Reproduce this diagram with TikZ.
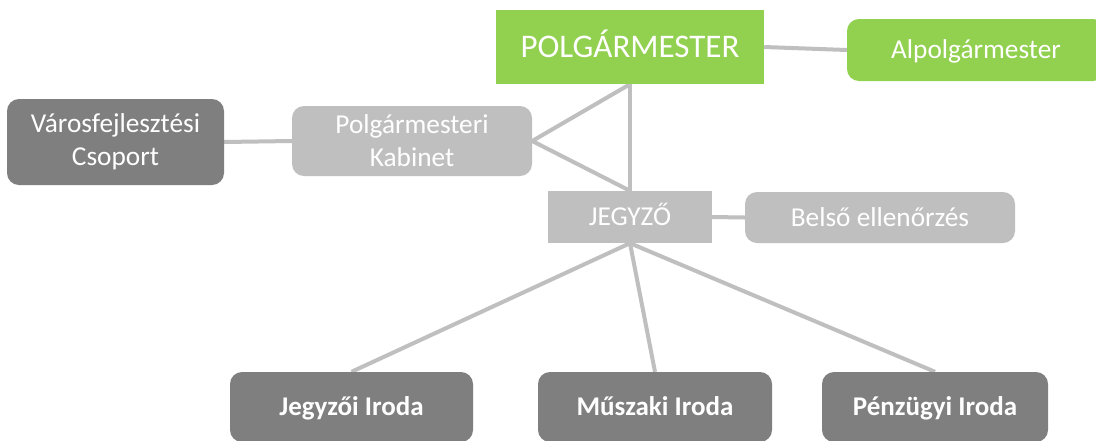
\documentclass[tikz,border=0pt]{standalone}
\usepackage{fontspec}
\setmainfont{Carlito}
\usetikzlibrary{backgrounds}
\definecolor{ogreen}{HTML}{92D050}
\definecolor{dgray}{HTML}{7F7F7F}
\definecolor{lgray}{HTML}{BFBFBF}
\tikzset{
  box/.style={rectangle, inner sep=0pt, text=white, align=center,
    font=\fontsize{27.3}{33}\selectfont},
  oneline/.style={text height=17.6pt, text depth=0pt},
  greenbox/.style={box, fill=ogreen},
  lightbox/.style={box, fill=lgray},
  darkbox/.style={box, fill=dgray},
  roundbox/.style={rounded corners=12pt},
  boldtext/.style={font=\fontsize{27}{33}\selectfont\bfseries},
  conn/.style={draw=lgray, line width=4pt}
}
\begin{document}
\begin{tikzpicture}[x=1pt, y=-1pt]
\useasboundingbox (0,0) rectangle (1096,440);
\clip (0,0) rectangle (1096,440);
\node[greenbox, text height=21.3pt, text depth=0pt, minimum width=268pt, minimum height=74pt,
  font=\fontsize{33}{36}\selectfont] (polg) at (630,47) {POLGÁRMESTER};
\node[greenbox, oneline, roundbox, minimum width=258pt, minimum height=62pt] (alpolg) at (976,50) {Alpolgármester};
\node[darkbox, roundbox, minimum width=217pt, minimum height=86pt] (varos) at (115.5,142) {Városfejlesztési\\Csoport};
\node[lightbox, roundbox, minimum width=240pt, minimum height=70pt] (kabinet) at (412,141) {Polgármesteri\\Kabinet};
\node[lightbox, oneline, minimum width=164pt, minimum height=52pt] (jegyzo) at (630,217) {JEGYZŐ};
\node[lightbox, oneline, roundbox, minimum width=270pt, minimum height=51pt] (belso) at (880,217.5) {Belső ellenőrzés};
\node[darkbox, roundbox, boldtext, oneline, minimum width=243pt, minimum height=70pt] (jiroda) at (351.5,407) {Jegyzői Iroda};
\node[darkbox, roundbox, boldtext, oneline, minimum width=234pt, minimum height=70pt] (muszaki) at (655,407) {Műszaki Iroda};
\node[darkbox, roundbox, boldtext, oneline, minimum width=226pt, minimum height=70pt] (penz) at (935,407) {Pénzügyi Iroda};
\begin{scope}[on background layer]
\fill[white] (0,0) rectangle (1096,440);
\draw[conn] (polg.east) -- (alpolg.west);
\draw[conn] (polg.south) -- (jegyzo.north);
\draw[conn] (kabinet.east) -- (polg.south);
\draw[conn] (kabinet.east) -- (jegyzo.north);
\draw[conn] (varos.east) -- (kabinet.west);
\draw[conn] (jegyzo.east) -- (belso.west);
\draw[conn] (jegyzo.south) -- (jiroda.north);
\draw[conn] (jegyzo.south) -- (muszaki.north);
\draw[conn] (jegyzo.south) -- (penz.north);
\end{scope}
\end{tikzpicture}
\end{document}
